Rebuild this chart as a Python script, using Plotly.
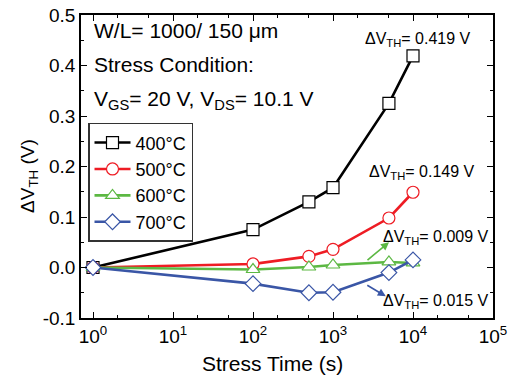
import plotly.graph_objects as go

# ---- data ----
stress_time = [1, 100, 500, 1000, 5000, 10000]
dvth_400 = [0.0, 0.075, 0.130, 0.158, 0.325, 0.419]
dvth_500 = [0.0, 0.007, 0.022, 0.036, 0.098, 0.149]
dvth_600 = [0.0, -0.004, 0.001, 0.005, 0.011, 0.009]
dvth_700 = [0.0, -0.032, -0.050, -0.049, -0.010, 0.015]
series_names = ["400°C", "500°C", "600°C", "700°C"]

x_tickvals = [1, 10, 100, 1000, 10000, 100000]
x_ticktext = ["10<sup>0</sup>", "10<sup>1</sup>", "10<sup>2</sup>",
              "10<sup>3</sup>", "10<sup>4</sup>", "10<sup>5</sup>"]
y_tickvals = [-0.1, 0.0, 0.1, 0.2, 0.3, 0.4, 0.5]
y_ticktext = ["-0.1", "0.0", "0.1", "0.2", "0.3", "0.4", "0.5"]

colors = ["#000000", "#ee1c24", "#5cb843", "#3a56a6"]
symbols = ["square", "circle", "triangle-up", "diamond"]
sizes = [12, 12, 12, 12]

FONT = "Liberation Sans, Arial, sans-serif"

fig = go.Figure()
for name, vals, c, s, sz in zip(series_names, [dvth_400, dvth_500, dvth_600, dvth_700],
                                colors, symbols, sizes):
    fig.add_trace(go.Scatter(
        x=stress_time, y=vals, name=name, mode="lines+markers",
        line=dict(color=c, width=2.6),
        marker=dict(symbol=s, size=sz, color="white",
                    line=dict(color=c, width=1.2)),
    ))

fig.update_xaxes(
    type="log", range=[-0.15, 5.0], automargin=False,
    tickvals=x_tickvals, ticktext=x_ticktext, ticklabeloverflow="allow",
    ticks="inside", ticklen=6, tickwidth=1.2, tickcolor="black",
    minor=dict(ticks="inside", ticklen=3, tickwidth=1, tickcolor="black", showgrid=False),
    showline=True, linecolor="black", linewidth=1.5, mirror="allticks",
    showgrid=False, zeroline=False,
    tickfont=dict(family=FONT, size=19, color="black"),
)
fig.update_yaxes(
    range=[-0.1, 0.5], automargin=False,
    tickvals=y_tickvals, ticktext=y_ticktext, ticklabeloverflow="allow",
    ticks="inside", ticklen=6, tickwidth=1.2, tickcolor="black",
    minor=dict(dtick=0.05, ticks="inside", ticklen=3, tickwidth=1, tickcolor="black", showgrid=False),
    showline=True, linecolor="black", linewidth=1.5, mirror="allticks",
    showgrid=False, zeroline=False,
    tickfont=dict(family=FONT, size=19, color="black"),
)

ann = []
def txt(text, x, y, size, xanchor="left", angle=0):
    ann.append(dict(text=text, x=x, y=y, xref="paper", yref="paper", showarrow=False,
                    xanchor=xanchor, yanchor="middle", textangle=angle,
                    font=dict(family=FONT, size=size, color="black")))

# axis titles
txt("Stress Time (s)", 0.466, -0.149, 21, "center")
txt("ΔV<sub>TH</sub> (V)", -0.126, 0.469, 19, "center", -90)

txt("W/L= 1000/ 150 μm", 0.026, 0.95, 21)
txt("Stress Condition:", 0.026, 0.838, 21)
txt("V<sub>GS</sub>= 20 V, V<sub>DS</sub>= 10.1 V", 0.026, 0.72, 21)
txt("ΔV<sub>TH</sub>= 0.419 V", 0.818, 0.92, 16, "center")
txt("ΔV<sub>TH</sub>= 0.149 V", 0.828, 0.48, 16, "center")
txt("ΔV<sub>TH</sub>= 0.009 V", 0.861, 0.266, 16, "center")
txt("ΔV<sub>TH</sub>= 0.015 V", 0.861, 0.053, 16, "center")

# arrows
ann.append(dict(x=3.70, y=0.05, xref="x", yref="y", ax=-23, ay=19, text="",
                showarrow=True, arrowhead=2, arrowsize=1, arrowwidth=1.6, arrowcolor=colors[2]))
ann.append(dict(x=3.66, y=-0.057, xref="x", yref="y", ax=-20, ay=-12, text="",
                showarrow=True, arrowhead=2, arrowsize=1, arrowwidth=1.6, arrowcolor=colors[3]))

fig.update_layout(
    width=516, height=380,
    margin=dict(l=81, r=23, t=15, b=62),
    plot_bgcolor="white", paper_bgcolor="white",
    annotations=ann,
    legend=dict(x=0.017, y=0.644, xanchor="left", yanchor="top",
                bordercolor="#333333", borderwidth=1.5, bgcolor="white",
                font=dict(family=FONT, size=18, color="black"),
                itemwidth=36, tracegroupgap=0),
    showlegend=True,
)

fig.write_html("out.html", config={"displayModeBar": False},
               post_script="document.body.style.margin='0';document.body.style.overflow='hidden';")
